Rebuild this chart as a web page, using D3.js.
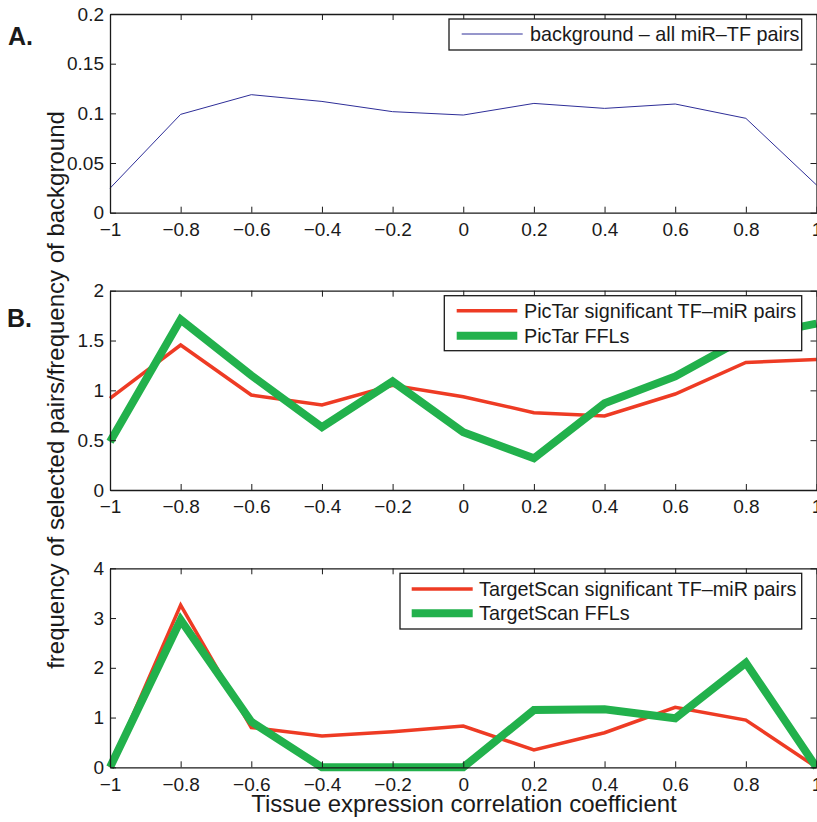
<!DOCTYPE html>
<html>
<head>
<meta charset="utf-8">
<script src="https://cdn.jsdelivr.net/npm/d3@7"></script>
<style>
  body { margin: 0; background: #fff; }
  svg { display: block; font-family: "Liberation Sans", Arial, sans-serif; }
</style>
</head>
<body>
<svg id="chart" width="817" height="822"></svg>
<script>
// correlation bins
const xBins = [-1, -0.8, -0.6, -0.4, -0.2, 0, 0.2, 0.4, 0.6, 0.8, 1];
const xTicks = [-1, -0.8, -0.6, -0.4, -0.2, 0, 0.2, 0.4, 0.6, 0.8, 1];

// A. background
const background = [0.0246, 0.099, 0.1188, 0.112, 0.1017, 0.0983, 0.110, 0.105, 0.1094, 0.095, 0.0279];

// B. PicTar
const pictarPairs = [0.92, 1.455, 0.953, 0.853, 1.05, 0.936, 0.776, 0.743, 0.963, 1.28, 1.31];
const pictarFFL = [0.485, 1.71, 1.15, 0.63, 1.09, 0.58, 0.318, 0.87, 1.14, 1.53, 1.67];

// C. TargetScan
const tscanPairs = [0, 3.26, 0.80, 0.63, 0.716, 0.83, 0.348, 0.695, 1.206, 0.95, 0];
const tscanFFL = [0, 2.96, 0.917, 0, 0, 0, 1.15, 1.165, 0.985, 2.10, 0];

const yTicksA = [0, 0.05, 0.1, 0.15, 0.2];
const yTicksB = [0, 0.5, 1, 1.5, 2];
const yTicksC = [0, 1, 2, 3, 4];

const BLUE = "#2e2e98", RED = "#ee3b24", GREEN = "#22b14c", INK = "#1a1a1a";

const svg = d3.select("#chart");
const left = 110, right = 816.5;
const x = d3.scaleLinear().domain([-1, 1]).range([left, right]);

const fmt = d => d3.format("")(d).replace("-", "\u2013");

function panel(top, bottom, yDomain, yTicks, series, legend) {
  const y = d3.scaleLinear().domain(yDomain).range([bottom, top]);
  const g = svg.append("g");

  // series lines
  const line = d3.line().x((d, i) => x(xBins[i])).y(d => y(d));
  series.forEach(s => {
    g.append("path").datum(s.values)
      .attr("d", line)
      .attr("fill", "none")
      .attr("stroke", s.color)
      .attr("stroke-width", s.width)
      .attr("stroke-linejoin", "miter");
  });

  // axes (matlab style, ticks inward, mirrored)
  const xb = g.append("g").attr("transform", `translate(0,${bottom})`)
    .call(d3.axisBottom(x).tickValues(xTicks).tickSizeInner(-6).tickSizeOuter(0).tickPadding(10).tickFormat(fmt));
  const xt = g.append("g").attr("transform", `translate(0,${top})`)
    .call(d3.axisTop(x).tickValues(xTicks).tickSizeInner(-6).tickSizeOuter(0).tickFormat(""));
  const yl = g.append("g").attr("transform", `translate(${left},0)`)
    .call(d3.axisLeft(y).tickValues(yTicks).tickSizeInner(-6).tickSizeOuter(0).tickPadding(6).tickFormat(fmt));
  const yr = g.append("g").attr("transform", `translate(${right},0)`)
    .call(d3.axisRight(y).tickValues(yTicks).tickSizeInner(-6).tickSizeOuter(0).tickFormat(""));
  [xb, xt, yl, yr].forEach(a => {
    a.select(".domain").attr("stroke", INK).attr("stroke-width", 1.3);
    a.selectAll(".tick line").attr("stroke", INK).attr("stroke-width", 1);
    a.selectAll(".tick text").attr("fill", INK).style("font-size", "19px");
  });
  xb.selectAll(".tick text").attr("dy", "0.71em");

  // legend
  const lg = g.append("g");
  lg.append("rect")
    .attr("x", legend.x0).attr("y", legend.y0)
    .attr("width", legend.x1 - legend.x0).attr("height", legend.y1 - legend.y0)
    .attr("fill", "#fff").attr("stroke", INK).attr("stroke-width", 1.3);
  legend.items.forEach((it, i) => {
    const ly = legend.rowY[i];
    lg.append("line")
      .attr("x1", legend.lx0).attr("x2", legend.lx1)
      .attr("y1", ly).attr("y2", ly)
      .attr("stroke", it.color).attr("stroke-width", it.width);
    lg.append("text")
      .attr("x", legend.tx).attr("y", ly)
      .attr("dy", "0.36em")
      .attr("fill", INK)
      .style("font-size", "19.8px")
      .text(it.label);
  });
}

panel(14, 212.7, [0, 0.2], yTicksA,
  [{ values: background, color: BLUE, width: 1 }],
  { x0: 449, x1: 801.7, y0: 19, y1: 50, lx0: 461.7, lx1: 522.7, tx: 530, rowY: [34],
    items: [{ label: "background \u2013 all miR\u2013TF pairs", color: BLUE, width: 1 }] });

panel(290.7, 490, [0, 2], yTicksB,
  [{ values: pictarPairs, color: RED, width: 3.5 }, { values: pictarFFL, color: GREEN, width: 8 }],
  { x0: 444.3, x1: 801.7, y0: 295.7, y1: 350.7, lx0: 456.7, lx1: 517.3, tx: 524, rowY: [310.7, 335.7],
    items: [{ label: "PicTar significant TF\u2013miR pairs", color: RED, width: 3.5 },
            { label: "PicTar FFLs", color: GREEN, width: 8 }] });

panel(568.3, 767.3, [0, 4], yTicksC,
  [{ values: tscanPairs, color: RED, width: 3.5 }, { values: tscanFFL, color: GREEN, width: 8 }],
  { x0: 400, x1: 801.7, y0: 573.3, y1: 629, lx0: 411.7, lx1: 472.7, tx: 479, rowY: [589, 613.3],
    items: [{ label: "TargetScan significant TF\u2013miR pairs", color: RED, width: 3.5 },
            { label: "TargetScan FFLs", color: GREEN, width: 8 }] });

// panel letters
svg.append("text").attr("x", 8).attr("y", 44.5).attr("font-weight", "bold")
  .style("font-size", "25px").attr("fill", INK).text("A.");
svg.append("text").attr("x", 7).attr("y", 327).attr("font-weight", "bold")
  .style("font-size", "25px").attr("fill", INK).text("B.");

// axis titles
svg.append("text")
  .attr("transform", "translate(64,390) rotate(-90)")
  .attr("text-anchor", "middle").attr("fill", INK)
  .style("font-size", "24px")
  .text("frequency of selected pairs/frequency of background");
svg.append("text")
  .attr("x", 464).attr("y", 812)
  .attr("text-anchor", "middle").attr("fill", INK)
  .style("font-size", "24px")
  .text("Tissue expression correlation coefficient");
</script>
</body>
</html>
